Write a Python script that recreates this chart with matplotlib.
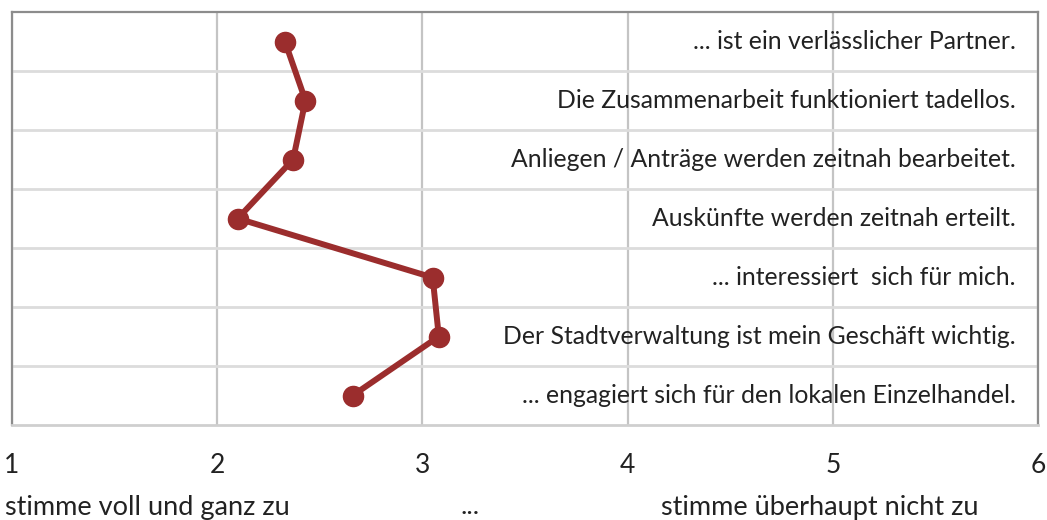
import matplotlib.pyplot as plt
import numpy as np

aussagen = [
    "... ist ein verlässlicher Partner.",
    "Die Zusammenarbeit funktioniert tadellos.",
    "Anliegen / Anträge werden zeitnah bearbeitet.",
    "Auskünfte werden zeitnah erteilt.",
    "... interessiert  sich für mich.",
    "Der Stadtverwaltung ist mein Geschäft wichtig.",
    "... engagiert sich für den lokalen Einzelhandel.",
]
mittelwerte = [2.33, 2.43, 2.37, 2.10, 3.05, 3.08, 2.66]
skala = [1, 2, 3, 4, 5, 6]

plt.rcParams['font.family'] = ['Lato', 'DejaVu Sans']

fig = plt.figure(figsize=(10.47, 5.2), dpi=100)
ax = fig.add_axes([12 / 1047, 1 - 425 / 520, 1026 / 1047, 413 / 520])

pos = np.arange(len(aussagen))
rot = "#9b2d2d"

ax.plot(mittelwerte, pos, color=rot, linewidth=4.3, marker="o", markersize=14.5, zorder=3)

for p, txt in zip(pos, aussagen):
    ax.text(5.89, p, txt, ha="right", va="center", fontsize=17.8, color="#222222", zorder=2)

ax.set_xlim(1, 6)
ax.set_ylim(len(aussagen) - 0.5, -0.5)
ax.set_xticks(skala)
ax.set_xticklabels([str(s) for s in skala], fontsize=19, color="#222222")
ax.set_yticks([])
ax.set_yticks(pos[:-1] + 0.5, minor=True)
ax.tick_params(axis="x", length=0, pad=20)
ax.tick_params(axis="y", which="both", length=0)

ax.grid(axis="x", color="#c4c4c4", linewidth=1.6)
ax.grid(axis="y", which="minor", color="#dcdcdc", linewidth=2)
ax.set_axisbelow(True)

for s in ["left", "top", "right"]:
    ax.spines[s].set_color("#8c8c8c")
    ax.spines[s].set_linewidth(1.6)
ax.spines["bottom"].set_color("#cfcfcf")
ax.spines["bottom"].set_linewidth(2)

fig.text(5 / 1047, 1 - 507 / 520, "stimme voll und ganz zu", fontsize=19.5, va="center", ha="left", color="#222222")
fig.text(470 / 1047, 1 - 507 / 520, "...", fontsize=19.5, va="center", ha="center", color="#222222")
fig.text(661 / 1047, 1 - 507 / 520, "stimme überhaupt nicht zu", fontsize=19.5, va="center", ha="left", color="#222222")

fig.savefig("out.png", dpi=100)
